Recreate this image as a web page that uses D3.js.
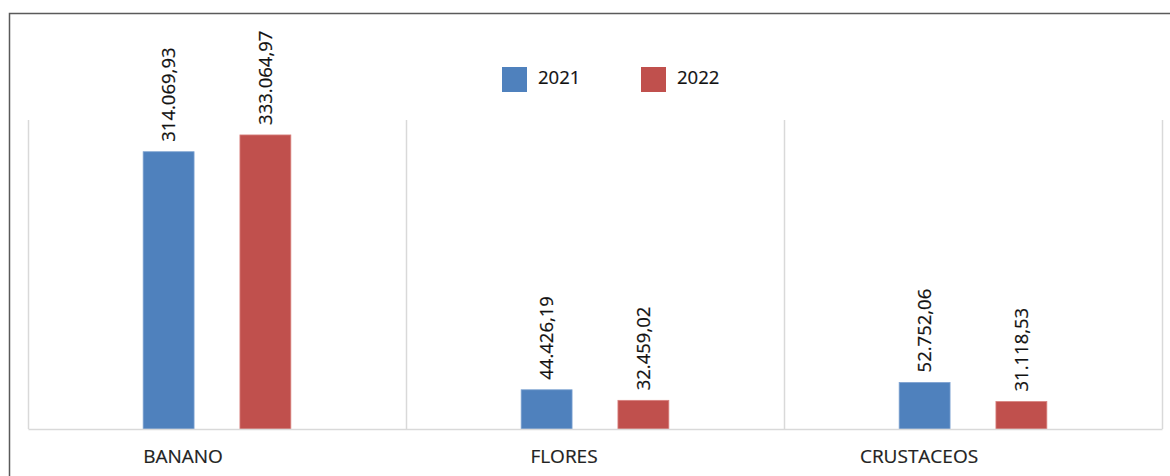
<!DOCTYPE html>
<html>
<head>
<meta charset="utf-8">
<script src="https://cdn.jsdelivr.net/npm/d3@7"></script>
<style>
  html, body { margin: 0; padding: 0; background: #ffffff; }
  svg { display: block; font-family: "Open Sans", "Noto Sans", sans-serif; }
</style>
</head>
<body>
<svg id="chart" width="1170" height="476"></svg>
<script>
// Exports by product, 2021 vs 2022
const categories = ["BANANO", "FLORES", "CRUSTACEOS"];
const seriesNames = ["2021", "2022"];
const values2021 = [314069.93, 44426.19, 52752.06];
const values2022 = [333064.97, 32459.02, 31118.53];

const colors = { "2021": "#4F81BD", "2022": "#C0504D" };
const strokes = { "2021": "#7fa3d1", "2022": "#d8827f" };

// Category label horizontal nudges (labels sit left of the category centre)
const labelNudge = [-34, -31, -54];

const W = 1170, H = 476;
const plot = { left: 28, right: 1162, top: 120, bottom: 429 };

const svg = d3.select("#chart");

// Outer frame (top and left edges)
svg.append("path")
  .attr("d", `M9.5,${H} V13.5 H${W}`)
  .attr("fill", "none")
  .attr("stroke", "#5a5a5a")
  .attr("stroke-width", 1.5);

const x0 = d3.scaleBand()
  .domain(categories)
  .range([plot.left, plot.right])
  .paddingInner(0)
  .paddingOuter(0);

const x1 = d3.scaleBand()
  .domain(seriesNames)
  .range([0, x0.bandwidth()])
  .paddingInner(0.474)
  .paddingOuter(1.19);

const y = d3.scaleLinear()
  .domain([0, 350000])
  .range([plot.bottom, plot.top]);

const locale = d3.formatLocale({ decimal: ",", thousands: ".", grouping: [3], currency: ["", ""] });
const fmt = locale.format(",.2f");

// Category separators (vertical gridlines)
const bounds = categories.map(c => x0(c)).concat([x0.range()[1]]);
svg.append("g")
  .selectAll("line")
  .data(bounds)
  .join("line")
  .attr("x1", d => Math.round(d) + 0.5)
  .attr("x2", d => Math.round(d) + 0.5)
  .attr("y1", y.range()[1])
  .attr("y2", y.range()[0])
  .attr("stroke", "#d9d9d9")
  .attr("stroke-width", 1.5);

// Bars
const rows = categories.map((c, i) => ({
  category: c,
  index: i,
  items: [
    { series: "2021", value: values2021[i] },
    { series: "2022", value: values2022[i] }
  ]
}));

const groups = svg.append("g")
  .selectAll("g")
  .data(rows)
  .join("g")
  .attr("transform", d => `translate(${x0(d.category)},0)`);

groups.selectAll("rect")
  .data(d => d.items)
  .join("rect")
  .attr("x", d => x1(d.series))
  .attr("y", d => y(d.value))
  .attr("width", x1.bandwidth())
  .attr("height", d => y(0) - y(d.value))
  .attr("fill", d => colors[d.series])
  .attr("stroke", d => strokes[d.series])
  .attr("stroke-width", 0.8);

// Value labels, rotated, above each bar
groups.selectAll("text")
  .data(d => d.items)
  .join("text")
  .attr("transform", d => `translate(${x1(d.series) + x1.bandwidth() / 2 + 6.5},${y(d.value) - 10}) rotate(-90)`)
  .attr("text-anchor", "start")
  .attr("font-size", 18.5)
  .attr("fill", "#111111")
  .attr("stroke", "#111111")
  .attr("stroke-width", 0.2)
  .text(d => fmt(d.value));

// Baseline / category axis
const xAxis = d3.axisBottom(x0).tickSize(0).tickPadding(0);
const axisG = svg.append("g")
  .attr("transform", `translate(0,${y(0)})`)
  .call(xAxis);
axisG.select(".domain")
  .attr("stroke", "#d9d9d9")
  .attr("stroke-width", 1.5);
axisG.selectAll(".tick text")
  .attr("font-family", "\"Open Sans\", \"Noto Sans\", sans-serif")
  .attr("font-size", 19)
  .attr("fill", "#222222")
  .attr("stroke", "#222222")
  .attr("stroke-width", 0.2)
  .attr("dy", null)
  .attr("y", 34)
  .attr("x", (d, i) => labelNudge[i]);

// Legend
const legend = svg.append("g")
  .selectAll("g")
  .data(seriesNames)
  .join("g")
  .attr("transform", (d, i) => `translate(${502 + i * 139},67)`);
legend.append("rect")
  .attr("width", 25)
  .attr("height", 25)
  .attr("fill", d => colors[d]);
legend.append("text")
  .attr("x", 36)
  .attr("y", 16.5)
  .attr("font-size", 18.5)
  .attr("fill", "#111111")
  .attr("stroke", "#111111")
  .attr("stroke-width", 0.2)
  .text(d => d);
</script>
</body>
</html>
